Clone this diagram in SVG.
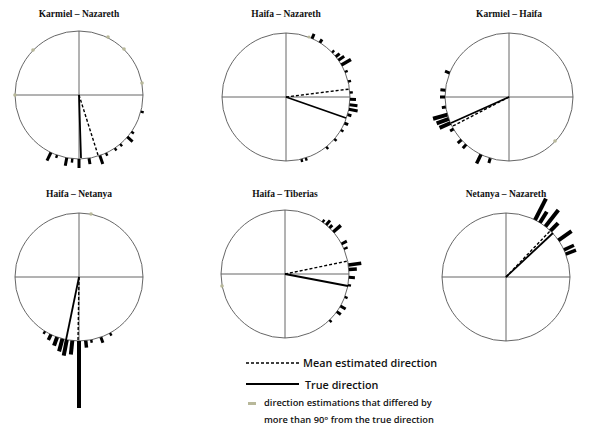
<svg xmlns="http://www.w3.org/2000/svg" width="600" height="436" viewBox="0 0 600 436">
<style>
.t{font-family:"Liberation Serif",serif;font-weight:bold;font-size:9.5px;text-anchor:middle;fill:#111}
.c{fill:none;stroke:#555;stroke-width:0.9}
.ax{stroke:#555;stroke-width:0.9}
.b{fill:#000}
.g{fill:#b8b89a}
.tr{stroke:#000;stroke-width:1.8}
.ds{stroke:#000;stroke-width:1.4;stroke-dasharray:3,2}
.l{font-family:"Open Sans","Liberation Sans",sans-serif;font-weight:600;fill:#111}
</style>
<rect width="600" height="436" fill="#fff"/>
<g id="chart1" transform="translate(79,95)">
<text class="t" x="0" y="-78">Karmiel – Nazareth</text>
<circle class="c" r="64"/><path class="ax" d="M-64 0H64M0-64V64"/>
<g class="b">
<rect x="-1.5" y="-73" width="3" height="9" transform="rotate(206)"/>
<rect x="-1.2" y="-67" width="2.4" height="3" transform="rotate(200)"/>
<rect x="-1.5" y="-72" width="3" height="8" transform="rotate(191)"/>
<rect x="-1.2" y="-68" width="2.4" height="4" transform="rotate(186)"/>
<rect x="-1.5" y="-73" width="3" height="9" transform="rotate(180)"/>
<rect x="-1.5" y="-70" width="3" height="6" transform="rotate(171)"/>
<rect x="-1.5" y="-73" width="3" height="9" transform="rotate(161)"/>
<rect x="-1.2" y="-67" width="2.4" height="3" transform="rotate(155)"/>
<rect x="-1.2" y="-67" width="2.4" height="3" transform="rotate(146)"/>
<rect x="-1.2" y="-67" width="2.4" height="3" transform="rotate(140)"/>
<rect x="-1.5" y="-71" width="3" height="7" transform="rotate(131)"/>
<rect x="-1.2" y="-67" width="2.4" height="3" transform="rotate(125)"/>
<rect x="-1.2" y="-67" width="2.4" height="3" transform="rotate(105)"/>
</g>
<g class="g">
<circle cx="-46" cy="-45" r="1.8"/><circle cx="29" cy="-58" r="1.8"/><circle cx="45" cy="-46" r="1.8"/><circle cx="63" cy="-12" r="1.8"/><circle cx="-64" cy="0" r="1.8"/>
</g>
<line class="tr" x1="0" y1="0" x2="2" y2="63"/>
<line class="ds" x1="0" y1="0" x2="19" y2="60"/>
</g>
<g id="chart2" transform="translate(286,97)">
<text class="t" x="0" y="-80">Haifa – Nazareth</text>
<circle class="c" r="64"/><path class="ax" d="M-64 0H64M0-64V64"/>
<g class="b">
<rect x="-1.5" y="-69" width="3" height="5" transform="rotate(24)"/>
<rect x="-1.5" y="-68" width="3" height="4" transform="rotate(32)"/>
<rect x="-1.2" y="-67" width="2.4" height="3" transform="rotate(46)"/>
<rect x="-1.5" y="-69" width="3" height="5" transform="rotate(51)"/>
<rect x="-1.5" y="-71" width="3" height="7" transform="rotate(55)"/>
<rect x="-1.8" y="-75" width="3.5" height="11" transform="rotate(60)"/>
<rect x="-1.2" y="-67" width="2.4" height="3" transform="rotate(67)"/>
<rect x="-1.2" y="-67" width="2.4" height="3" transform="rotate(76)"/>
<rect x="-1.2" y="-67" width="2.4" height="3" transform="rotate(86)"/>
<rect x="-1.5" y="-70" width="3" height="6" transform="rotate(92)"/>
<rect x="-1.5" y="-72" width="3" height="8" transform="rotate(97)"/>
<rect x="-1.5" y="-73" width="3" height="9" transform="rotate(101)"/>
<rect x="-1.5" y="-68" width="3" height="4" transform="rotate(106)"/>
<rect x="-1.5" y="-68" width="3" height="4" transform="rotate(114)"/>
<rect x="-1.2" y="-67" width="2.4" height="3" transform="rotate(121)"/>
<rect x="-1.2" y="-67" width="2.4" height="3" transform="rotate(131)"/>
<rect x="-1.2" y="-67" width="2.4" height="3" transform="rotate(141)"/>
<rect x="-1.2" y="-67" width="2.4" height="3" transform="rotate(162)"/>
<rect x="-1.2" y="-67" width="2.4" height="3" transform="rotate(166)"/>
</g>
<circle class="g" cx="23" cy="-60" r="1.5"/>
<line class="tr" x1="0" y1="0" x2="60" y2="21"/>
<line class="ds" x1="0" y1="0" x2="64" y2="-8"/>
</g>
<g id="chart3" transform="translate(509,97)">
<text class="t" x="0" y="-80">Karmiel – Haifa</text>
<circle class="c" r="64"/><path class="ax" d="M-64 0H64M0-64V64"/>
<g class="b">
<rect x="-1.5" y="-69" width="3" height="5" transform="rotate(292)"/>
<rect x="-1.5" y="-69" width="3" height="5" transform="rotate(276)"/>
<rect x="-1.5" y="-69" width="3" height="5" transform="rotate(270)"/>
<rect x="-1.5" y="-68" width="3" height="4" transform="rotate(261)"/>
<rect x="-2" y="-79" width="4" height="15" transform="rotate(254)"/>
<rect x="-2" y="-77" width="4" height="13" transform="rotate(250)"/>
<rect x="-2" y="-76" width="4" height="12" transform="rotate(246)"/>
<rect x="-1.5" y="-68" width="3" height="4" transform="rotate(240)"/>
<rect x="-1.5" y="-69" width="3" height="5" transform="rotate(228)"/>
<rect x="-1.5" y="-69" width="3" height="5" transform="rotate(222)"/>
<rect x="-1.8" y="-74" width="3.5" height="10" transform="rotate(206)"/>
<rect x="-1.5" y="-69" width="3" height="5" transform="rotate(197)"/>
</g>
<circle class="g" cx="46" cy="44" r="1.8"/>
<line class="tr" x1="0" y1="0" x2="-58" y2="26"/>
<line class="ds" x1="0" y1="0" x2="-56" y2="29"/>
</g>
<g id="chart4" transform="translate(79,277)">
<text class="t" x="0" y="-80">Haifa – Netanya</text>
<circle class="c" r="64"/><path class="ax" d="M-64 0H64M0-64V64"/>
<g class="b">
<rect x="-2" y="-131" width="4" height="67" transform="rotate(180)"/>
<rect x="-1.2" y="-67" width="2.4" height="3" transform="rotate(212)"/>
<rect x="-1.8" y="-70" width="3.5" height="6" transform="rotate(206)"/>
<rect x="-2" y="-73" width="4" height="9" transform="rotate(200)"/>
<rect x="-2" y="-77" width="4" height="13" transform="rotate(195)"/>
<rect x="-2" y="-80" width="4" height="16" transform="rotate(191)"/>
<rect x="-2" y="-78" width="4" height="14" transform="rotate(186)"/>
<rect x="-1.8" y="-71" width="3.5" height="7" transform="rotate(174)"/>
<rect x="-1.2" y="-67" width="2.4" height="3" transform="rotate(169)"/>
<rect x="-1.5" y="-70" width="3" height="6" transform="rotate(160)"/>
<rect x="-1.2" y="-67" width="2.4" height="3" transform="rotate(151)"/>
</g>
<circle class="g" cx="12" cy="-63" r="1.8"/>
<line class="tr" x1="0" y1="0" x2="-13" y2="63"/>
<line class="ds" x1="0" y1="0" x2="-1" y2="64"/>
</g>
<g id="chart5" transform="translate(285,274)">
<text class="t" x="0" y="-77">Haifa – Tiberias</text>
<circle class="c" r="64"/><path class="ax" d="M-64 0H64M0-64V64"/>
<g class="b">
<rect x="-1.2" y="-67" width="2.4" height="3" transform="rotate(36)"/>
<rect x="-1.5" y="-70" width="3" height="6" transform="rotate(40)"/>
<rect x="-1.5" y="-68" width="3" height="4" transform="rotate(44)"/>
<rect x="-1.8" y="-74" width="3.5" height="10" transform="rotate(49)"/>
<rect x="-1.5" y="-70" width="3" height="6" transform="rotate(62)"/>
<rect x="-1.2" y="-68" width="2.4" height="4" transform="rotate(67)"/>
<rect x="-1.8" y="-77" width="3.5" height="13" transform="rotate(82)"/>
<rect x="-1.8" y="-72" width="3.5" height="8" transform="rotate(86)"/>
<rect x="-1.5" y="-70" width="3" height="6" transform="rotate(93)"/>
<rect x="-1.2" y="-67" width="2.4" height="3" transform="rotate(100)"/>
<rect x="-1.2" y="-67" width="2.4" height="3" transform="rotate(111)"/>
<rect x="-1.5" y="-70" width="3" height="6" transform="rotate(120)"/>
<rect x="-1.5" y="-69" width="3" height="5" transform="rotate(126)"/>
<rect x="-1.2" y="-67" width="2.4" height="3" transform="rotate(136)"/>
</g>
<circle class="g" cx="-63" cy="12" r="1.8"/>
<line class="tr" x1="0" y1="0" x2="63" y2="12"/>
<line class="ds" x1="0" y1="0" x2="63" y2="-13"/>
</g>
<g id="chart6" transform="translate(506,277)">
<text class="t" x="0" y="-80">Netanya – Nazareth</text>
<circle class="c" r="64"/><path class="ax" d="M-64 0H64M0-64V64"/>
<g class="b">
<rect x="-2" y="-88" width="4" height="24" transform="rotate(27)"/>
<rect x="-2" y="-77" width="4" height="13" transform="rotate(32)"/>
<rect x="-2" y="-85" width="4" height="21" transform="rotate(38)"/>
<rect x="-2" y="-75" width="4" height="11" transform="rotate(44)"/>
<rect x="-2" y="-80" width="4" height="16" transform="rotate(55)"/>
<rect x="-1.8" y="-75" width="3.5" height="11" transform="rotate(65)"/>
<rect x="-1.8" y="-75" width="3.5" height="11" transform="rotate(69)"/>
</g>
<line class="tr" x1="0" y1="0" x2="47" y2="-44"/>
<line class="ds" x1="0" y1="0" x2="44" y2="-46"/>
</g>
<g id="connectors"/>
<g id="legend">
<line class="ds" x1="246" y1="363" x2="300" y2="363" stroke-width="1.2"/>
<text class="l" x="303" y="367" font-size="10.8">Mean estimated direction</text>
<line class="tr" x1="246" y1="384" x2="299" y2="384" stroke-width="1.3"/>
<text class="l" x="305" y="389" font-size="10.8">True direction</text>
<rect class="g" x="248" y="402" width="8" height="3"/>
<text class="l" x="264" y="406" font-size="9.3">direction estimations that differed by</text>
<text class="l" x="264" y="423" font-size="9.3">more  than  90° from the true direction</text>
</g>
</svg>
